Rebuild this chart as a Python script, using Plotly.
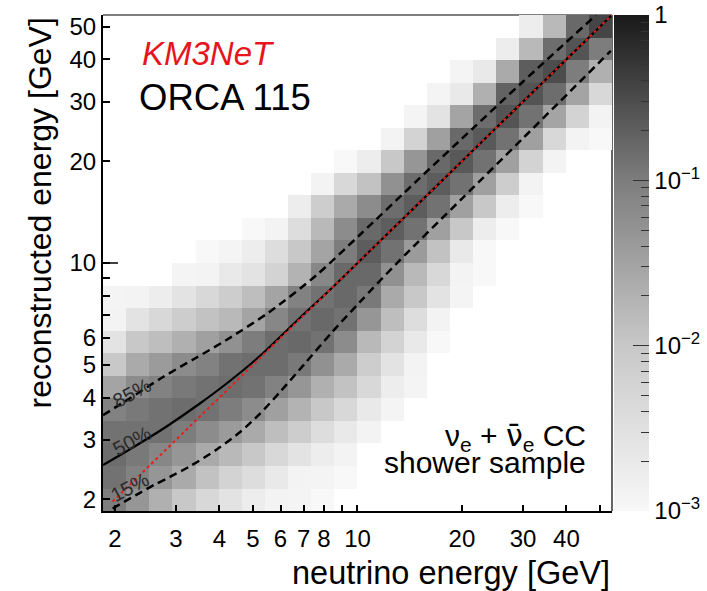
import numpy as np
import plotly.graph_objects as go

# ---------------- data ----------------
# bin edges in GeV (15 bins per decade), same for true and reconstructed energy
true_edges = [1.848, 2.154, 2.512, 2.929, 3.415, 3.981, 4.642, 5.412, 6.310, 7.356, 8.577,
              10.0, 11.66, 13.59, 15.85, 18.48, 21.54, 25.12, 29.29, 34.15, 39.81, 46.42, 54.12]
reco_edges = [1.848, 2.154, 2.512, 2.929, 3.415, 3.981, 4.642, 5.412, 6.310, 7.356, 8.577,
              10.0, 11.66, 13.59, 15.85, 18.48, 21.54, 25.12, 29.29, 34.15, 39.81, 46.42, 54.12]

N = None
# fraction of events per (reco bin row, true bin column); rows from lowest reco energy upward
frac_rows = [
    [0.1, 0.047, 0.021, 0.01, 0.0047, 0.0028, 0.0017, 0.0013, 0.0012, 0.001, N, N, N, N, N, N, N, N, N, N, N, N],
    [0.13, 0.085, 0.047, 0.025, 0.012, 0.006, 0.0036, 0.0021, 0.0013, 0.0012, 0.001, N, N, N, N, N, N, N, N, N, N, N],
    [0.145, 0.11, 0.074, 0.047, 0.025, 0.016, 0.01, 0.0047, 0.0028, 0.0017, 0.0013, N, N, N, N, N, N, N, N, N, N, N],
    [0.13, 0.13, 0.13, 0.1, 0.063, 0.04, 0.025, 0.0135, 0.0078, 0.0036, 0.0021, 0.0013, N, N, N, N, N, N, N, N, N, N],
    [0.085, 0.11, 0.13, 0.145, 0.13, 0.1, 0.063, 0.034, 0.019, 0.01, 0.0047, 0.0021, 0.0012, N, N, N, N, N, N, N, N, N],
    [0.03, 0.063, 0.085, 0.11, 0.13, 0.145, 0.13, 0.085, 0.047, 0.021, 0.012, 0.0047, 0.0017, 0.0012, N, N, N, N, N, N, N, N],
    [0.01, 0.025, 0.04, 0.063, 0.085, 0.13, 0.145, 0.145, 0.11, 0.054, 0.025, 0.0078, 0.0028, 0.0013, N, N, N, N, N, N, N, N],
    [0.0028, 0.01, 0.0135, 0.021, 0.034, 0.054, 0.1, 0.145, 0.16, 0.13, 0.063, 0.016, 0.006, 0.0021, 0.001, N, N, N, N, N, N, N],
    [0.0013, 0.0028, 0.0047, 0.0078, 0.012, 0.016, 0.03, 0.074, 0.13, 0.16, 0.13, 0.047, 0.0135, 0.0036, 0.0013, N, N, N, N, N, N, N],
    [0.0012, 0.0013, 0.0017, 0.0028, 0.0047, 0.0078, 0.0135, 0.03, 0.085, 0.13, 0.16, 0.11, 0.025, 0.01, 0.0028, 0.0012, N, N, N, N, N, N],
    [N, N, N, 0.0012, 0.0013, 0.0021, 0.0028, 0.006, 0.019, 0.074, 0.16, 0.16, 0.054, 0.016, 0.0047, 0.0013, 0.001, N, N, N, N, N],
    [N, N, N, N, 0.001, 0.0012, 0.0017, 0.0036, 0.01, 0.03, 0.1, 0.21, 0.13, 0.04, 0.012, 0.0021, 0.001, N, N, N, N, N],
    [N, N, N, N, N, N, 0.001, 0.0013, 0.0036, 0.016, 0.063, 0.16, 0.21, 0.13, 0.034, 0.01, 0.0017, 0.001, N, N, N, N],
    [N, N, N, N, N, N, N, N, 0.0017, 0.0078, 0.025, 0.063, 0.145, 0.21, 0.13, 0.034, 0.01, 0.0017, 0.001, N, N, N],
    [N, N, N, N, N, N, N, N, N, 0.0013, 0.0047, 0.012, 0.054, 0.145, 0.21, 0.13, 0.034, 0.0078, 0.0013, N, N, N],
    [N, N, N, N, N, N, N, N, N, N, 0.001, 0.0017, 0.01, 0.047, 0.16, 0.23, 0.13, 0.034, 0.006, 0.0013, N, N],
    [N, N, N, N, N, N, N, N, N, N, N, N, 0.0013, 0.006, 0.034, 0.16, 0.23, 0.13, 0.034, 0.0047, 0.0013, 0.001],
    [N, N, N, N, N, N, N, N, N, N, N, N, N, 0.0012, 0.0028, 0.03, 0.145, 0.26, 0.13, 0.03, 0.006, 0.0013],
    [N, N, N, N, N, N, N, N, N, N, N, N, N, N, 0.0012, 0.0021, 0.021, 0.18, 0.26, 0.145, 0.03, 0.0047],
    [N, N, N, N, N, N, N, N, N, N, N, N, N, N, N, 0.0012, 0.0021, 0.025, 0.21, 0.3, 0.1, 0.021],
    [N, N, N, N, N, N, N, N, N, N, N, N, N, N, N, N, N, 0.0017, 0.016, 0.145, 0.26, 0.1],
    [N, N, N, N, N, N, N, N, N, N, N, N, N, N, N, N, N, N, 0.0017, 0.016, 0.16, 0.36],
]

# quantile curves (true energy, reconstructed energy) in GeV
q85_true = [1.848, 2.2, 2.76, 3.4, 4.19, 5.59, 7.62, 10.15, 15.0, 21.5, 30.0, 48.7]
q85_reco = [3.55, 3.97, 4.61, 5.22, 5.92, 7.18, 9.21, 12.1, 17.7, 25.0, 34.4, 54.1]
q50_true = [1.848, 2.254, 2.818, 3.514, 4.287, 5.23, 6.817, 8.32, 12.0, 20.0, 30.0, 54.1]
q50_reco = [2.527, 2.848, 3.286, 3.842, 4.478, 5.309, 6.877, 8.32, 12.0, 20.0, 30.0, 54.1]
q15_true = [1.97, 2.3, 2.6, 2.88, 3.3, 3.93, 4.6, 5.23, 6.0, 7.0, 8.5, 10.15, 13.0, 20.0, 30.0, 53.7]
q15_reco = [1.88, 2.06, 2.21, 2.33, 2.51, 2.81, 3.17, 3.58, 4.17, 5.0, 6.29, 7.66, 10.0, 15.5, 23.4, 42.4]
diag_true = [1.97, 54.1]
diag_reco = [1.97, 54.1]

x_tickvals = [2, 3, 4, 5, 6, 7, 8, 10, 20, 30, 40]
x_ticktext = ['2', '3', '4', '5', '6', '7', '8', '10', '20', '30', '40']
x_minorvals = [9, 50]
y_tickvals = [2, 3, 4, 5, 6, 10, 20, 30, 40, 50]
y_ticktext = ['2', '3', '4', '5', '6', '10', '20', '30', '40', '50']
y_minorvals = [7, 8, 9]

cb_major = [-3, -2, -1, 0]
cb_major_text = ['10<sup>−3</sup>', '10<sup>−2</sup>', '10<sup>−1</sup>', '1']

# ---------------- figure ----------------
FONT = 'Liberation Sans, Arial, Helvetica, sans-serif'
gray_scale = [[0.0, 'rgb(248,248,248)'], [1/3, 'rgb(200,200,200)'],
              [2/3, 'rgb(125,125,125)'], [1.0, 'rgb(25,25,25)']]

z = np.log10(np.array(frac_rows, dtype=float))

cb_minor = [k + np.log10(m) for k in [-3, -2, -1] for m in range(2, 10)]

cb_common = dict(x=1.0039, xanchor='left', thickness=35, thicknessmode='pixels',
                 len=1, lenmode='fraction', y=0.5, yanchor='middle', xpad=0, ypad=0,
                 outlinewidth=0, ticks='inside', tickcolor='#333',
                 tickfont=dict(family=FONT, size=24, color='black'))

fig = go.Figure()
fig.add_trace(go.Heatmap(
    x=true_edges, y=reco_edges, z=z, zmin=-3, zmax=0, colorscale=gray_scale,
    hoverinfo='skip',
    colorbar=dict(**cb_common, tickmode='array', tickvals=cb_major, ticktext=cb_major_text,
                  ticklen=16, tickwidth=1)))
# overlay colorbar (transparent) carrying the short minor ticks
fig.add_trace(go.Heatmap(
    x=true_edges, y=reco_edges, z=z, zmin=-3, zmax=0,
    colorscale=[[0, 'rgba(0,0,0,0)'], [1, 'rgba(0,0,0,0)']], hoverinfo='skip',
    colorbar=dict(**cb_common, tickmode='array', tickvals=cb_minor,
                  showticklabels=False, ticklen=8, tickwidth=1)))

dash_style = '8px,5px'
fig.add_trace(go.Scatter(x=q85_true, y=q85_reco, mode='lines',
                         line=dict(color='black', width=2.5, dash=dash_style,
                                   shape='spline', smoothing=0.8),
                         hoverinfo='skip'))
fig.add_trace(go.Scatter(x=q15_true, y=q15_reco, mode='lines',
                         line=dict(color='black', width=2.5, dash=dash_style,
                                   shape='spline', smoothing=0.8),
                         hoverinfo='skip'))
fig.add_trace(go.Scatter(x=q50_true, y=q50_reco, mode='lines',
                         line=dict(color='black', width=2.2, shape='spline', smoothing=0.8),
                         hoverinfo='skip'))
fig.add_trace(go.Scatter(x=diag_true, y=diag_reco, mode='lines',
                         line=dict(color='rgb(230,30,30)', width=2, dash='dot'),
                         hoverinfo='skip'))

axis_common = dict(type='log', showgrid=False, zeroline=False, showline=True,
                   linecolor='black', linewidth=2, ticks='inside', tickwidth=1.5,
                   tickcolor='black', tickmode='array',
                   tickfont=dict(family=FONT, size=24, color='black'))
fig.update_xaxes(**axis_common, range=[np.log10(true_edges[0]), np.log10(true_edges[-1])],
                 tickvals=x_tickvals, ticktext=x_ticktext, ticklen=6, ticklabelstandoff=5,
                 minor=dict(tickmode='array', tickvals=x_minorvals, ticks='inside',
                            ticklen=6, tickwidth=1.5, tickcolor='black', showgrid=False))
fig.update_yaxes(**axis_common, range=[np.log10(reco_edges[0]), np.log10(reco_edges[-1])],
                 tickvals=y_tickvals, ticktext=y_ticktext, ticklen=7, ticklabelstandoff=0,
                 minor=dict(tickmode='array', tickvals=y_minorvals, ticks='inside',
                            ticklen=7, tickwidth=1.5, tickcolor='black', showgrid=False))

def ann(text, x, y, size, color='black', xanchor='center', yanchor='middle', angle=0):
    return dict(text=text, x=x, y=y, xref='paper', yref='paper', showarrow=False,
                xanchor=xanchor, yanchor=yanchor, textangle=angle,
                font=dict(family=FONT, size=size, color=color))

nubar = '<span style="font-family:DejaVu Sans">ν̄</span>'
annotations = [
    ann('<i>KM3NeT</i>', 0.0727, 0.9214, 33, color='rgb(232,20,28)', xanchor='left'),
    ann('ORCA 115', 0.0668, 0.8327, 36.5, xanchor='left'),
    ann('ν<sub>e</sub> + ' + nubar + '<sub>e</sub> CC', 0.9528, 0.1492, 30, xanchor='right'),
    ann('shower sample', 0.9528, 0.0968, 30, xanchor='right'),
    ann('85%', 0.0563, 0.2373, 20, color='#2a2a2a', angle=-28),
    ann('50%', 0.0563, 0.1411, 20, color='#2a2a2a', angle=-28),
    ann('15%', 0.053, 0.0474, 20, color='#2a2a2a', angle=-28),
    ann('neutrino energy [GeV]', 1.0, -0.125, 32.5, xanchor='right'),
    ann('reconstructed energy [GeV]', -0.1238, 1.0, 32, yanchor='top', angle=-90),
]

shapes = [
    dict(type='line', xref='paper', yref='paper', x0=0, x1=1, y0=1, y1=1,
         line=dict(color='#555', width=1.5), layer='below'),
    dict(type='line', xref='paper', yref='paper', x0=1, x1=1, y0=0, y1=1,
         line=dict(color='#333', width=1.5), layer='below'),
    dict(type='line', xref='paper', yref='paper', x0=0, x1=0.0295, y0=0.5, y1=0.5,
         line=dict(color='black', width=1.5), layer='above'),
]

fig.update_layout(width=707, height=591,
                  margin=dict(l=103, r=95, t=15, b=80, autoexpand=False),
                  paper_bgcolor='white', plot_bgcolor='white', showlegend=False,
                  font=dict(family=FONT, size=24, color='black'),
                  annotations=annotations, shapes=shapes)

fig.write_html('out.html')
